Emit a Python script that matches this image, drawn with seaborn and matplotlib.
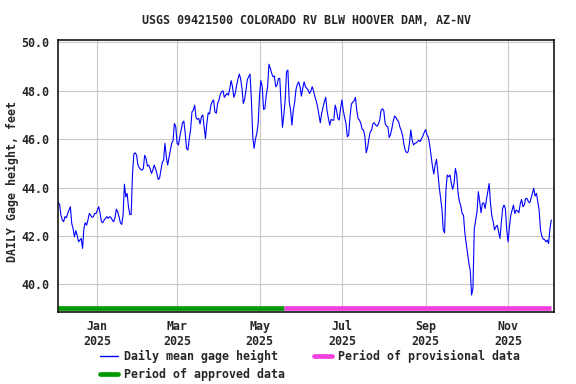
import matplotlib
matplotlib.use("Agg")
import matplotlib.pyplot as plt
from matplotlib.lines import Line2D
import seaborn as sns
import pandas as pd

# daily mean gage height, feet, starting 2024-12-03
dec_2024 = [43.39, 43.31, 42.87, 42.66, 42.59, 42.80, 42.75, 42.93, 43.07, 43.21,
            42.52, 42.31, 41.97, 42.22, 42.04, 41.76, 41.83, 41.90, 41.49, 42.31,
            42.55, 42.45, 42.66, 42.93, 42.86, 42.77, 42.80, 42.93, 42.93]
jan = [43.07, 43.21, 42.93, 42.59, 42.55, 42.66, 42.73, 42.80, 42.73, 42.80,
       42.77, 42.66, 42.59, 42.75, 43.11, 43.00, 42.80, 42.55, 42.48, 42.86,
       44.14, 43.62, 43.76, 43.21, 42.89, 42.89, 44.59, 45.39, 45.44, 45.34, 44.93]
feb = [44.82, 44.75, 44.72, 44.79, 45.34, 45.21, 44.89, 44.93, 44.79, 44.59,
       44.72, 44.93, 44.79, 44.59, 44.34, 44.38, 44.72, 45.03, 45.14, 45.83,
       45.28, 44.93, 45.25, 45.55, 45.83, 45.94, 46.65, 46.52]
mar = [45.83, 45.76, 46.10, 46.40, 46.68, 46.75, 46.24, 45.62, 45.55, 46.03,
       46.40, 47.13, 47.20, 47.41, 46.90, 46.82, 46.86, 46.63, 46.93, 47.00,
       46.52, 46.03, 46.65, 47.09, 47.04, 47.41, 47.55, 47.62, 47.13, 47.07, 47.48]
apr = [47.62, 47.86, 47.96, 48.00, 47.73, 47.82, 47.89, 47.82, 48.10, 48.42,
       48.17, 47.73, 47.89, 48.20, 48.47, 48.69, 48.51, 48.10, 47.48, 47.65,
       48.03, 48.47, 48.58, 48.69, 47.62, 46.10, 45.62, 46.00, 46.24, 46.65]
may = [47.82, 48.42, 48.17, 47.23, 47.27, 47.82, 48.17, 49.10, 48.93, 48.72,
       48.58, 48.61, 48.17, 48.24, 48.51, 48.51, 47.41, 46.49, 47.00, 47.62,
       48.79, 48.86, 47.55, 47.20, 46.58, 47.20, 47.51, 48.06, 48.26, 48.37, 48.17]
jun = [47.78, 48.10, 48.37, 48.17, 48.10, 48.03, 47.89, 47.99, 48.17, 48.00,
       47.75, 47.58, 47.34, 47.00, 46.68, 47.07, 47.31, 47.55, 47.73, 47.18,
       46.86, 46.58, 46.82, 46.79, 46.79, 47.41, 47.20, 46.86, 46.79, 47.27]
jul = [47.62, 47.20, 46.90, 46.65, 46.10, 46.17, 46.93, 47.45, 47.53, 47.59,
       47.73, 47.20, 46.85, 46.79, 46.65, 46.40, 46.38, 46.10, 45.44, 45.66,
       46.03, 46.31, 46.38, 46.65, 46.68, 46.58, 46.54, 46.63, 46.79, 47.20, 47.26]
aug = [47.18, 46.65, 46.54, 46.52, 46.07, 46.20, 46.45, 46.75, 46.96, 46.90,
       46.79, 46.72, 46.49, 46.35, 46.13, 45.76, 45.52, 45.44, 45.48, 45.83,
       46.38, 45.96, 45.76, 45.83, 45.85, 45.90, 45.96, 45.90, 46.03, 46.14, 46.29]
sep = [46.40, 46.17, 46.07, 45.76, 45.34, 44.89, 44.56, 44.93, 45.17, 44.66,
       44.04, 43.60, 43.14, 42.27, 42.13, 43.90, 44.52, 44.45, 44.52, 44.17,
       43.93, 44.17, 44.79, 44.52, 43.76, 43.42, 43.25, 42.93, 42.86, 42.13]
oct_ = [41.69, 41.28, 40.87, 40.59, 39.56, 39.83, 42.31, 42.66, 43.00, 43.83,
        43.42, 42.96, 43.35, 43.37, 43.14, 43.51, 43.83, 44.17, 43.35, 42.82,
        42.59, 42.25, 42.38, 42.44, 42.18, 41.90, 42.55, 43.14, 43.28, 43.14, 42.25]
nov = [41.76, 42.38, 42.86, 43.07, 43.28, 42.93, 43.07, 43.04, 42.96, 43.32,
       43.51, 43.21, 43.28, 43.55, 43.55, 43.42, 43.37, 43.55, 43.76, 43.97,
       43.65, 43.76, 43.42, 43.07, 42.25, 42.00, 41.87, 41.86, 41.76, 41.83]
dec_2025 = [41.69, 42.31, 42.66]

first_day = "2024-12-03"
provisional_from = "2025-05-19"
y_ticks = [40, 42, 44, 46, 48, 50]
x_ticks = ["2025-01-01", "2025-03-01", "2025-05-01", "2025-07-01", "2025-09-01", "2025-11-01"]
x_labels = ["Jan\n2025", "Mar\n2025", "May\n2025", "Jul\n2025", "Sep\n2025", "Nov\n2025"]

heights = dec_2024 + jan + feb + mar + apr + may + jun + jul + aug + sep + oct_ + nov + dec_2025
df = pd.DataFrame({"date": pd.date_range(first_day, periods=len(heights), freq="D"),
                   "height": heights})
last_day = df["date"].iloc[-1]

sns.set_style("white")
plt.rcParams["font.family"] = ["DejaVu Sans Mono"]
plt.rcParams["font.weight"] = "bold"
plt.rcParams["font.size"] = 8.4

green = "#009a00"
pink = "#f040e0"
bar_y = 39.03

fig = plt.figure(figsize=(5.76, 3.84), dpi=100)
ax = fig.add_axes([58 / 576, 1 - 312 / 384, 496 / 576, 272 / 384])

ax.grid(True, color="#c8c8c8", linewidth=0.8)
ax.set_axisbelow(True)

approved = pd.DataFrame({"date": pd.to_datetime([first_day, provisional_from]), "y": [bar_y, bar_y]})
provisional = pd.DataFrame({"date": pd.to_datetime([provisional_from, last_day]), "y": [bar_y, bar_y]})
sns.lineplot(data=approved, x="date", y="y", color=green, linewidth=3.4, ax=ax, solid_capstyle="butt")
sns.lineplot(data=provisional, x="date", y="y", color=pink, linewidth=3.4, ax=ax, solid_capstyle="butt")
sns.lineplot(data=df, x="date", y="height", color="#0000ff", linewidth=0.8, ax=ax)

ax.set_xlim(pd.Timestamp("2024-12-02 20:00"), pd.Timestamp("2025-12-05"))
ax.set_ylim(38.86, 50.1)
ax.set_yticks(y_ticks)
ax.set_yticklabels([f"{v:.1f}" for v in y_ticks])
ax.set_xticks(pd.to_datetime(x_ticks))
ax.set_xticklabels(x_labels)
ax.tick_params(length=0, pad=6)
ax.set_xlabel("")
ax.set_ylabel("")
for s in ax.spines.values():
    s.set_color("black")
    s.set_linewidth(1.1)

fig.text(306 / 576, 1 - 20 / 384, "USGS 09421500 COLORADO RV BLW HOOVER DAM, AZ-NV",
         ha="center", va="center", fontsize=8.4, fontweight="bold")
fig.text(12 / 576, 1 - 181 / 384, "DAILY Gage height, feet", rotation=90,
         ha="center", va="center", fontsize=8.4, fontweight="bold")

handles = [Line2D([], [], color="#0000ff", linewidth=1.0),
           Line2D([], [], color=green, linewidth=3.4),
           Line2D([], [], color=pink, linewidth=3.4)]
labels = ["Daily mean gage height", "Period of approved data", "Period of provisional data"]
fig.legend(handles, labels, loc="upper left", bbox_to_anchor=(100 / 576, 1 - 350 / 384),
           ncol=2, frameon=False, borderpad=0, borderaxespad=0, handlelength=1.55,
           handletextpad=0.5, columnspacing=2.5, labelspacing=0.4)

fig.savefig("out.png", dpi=100)
